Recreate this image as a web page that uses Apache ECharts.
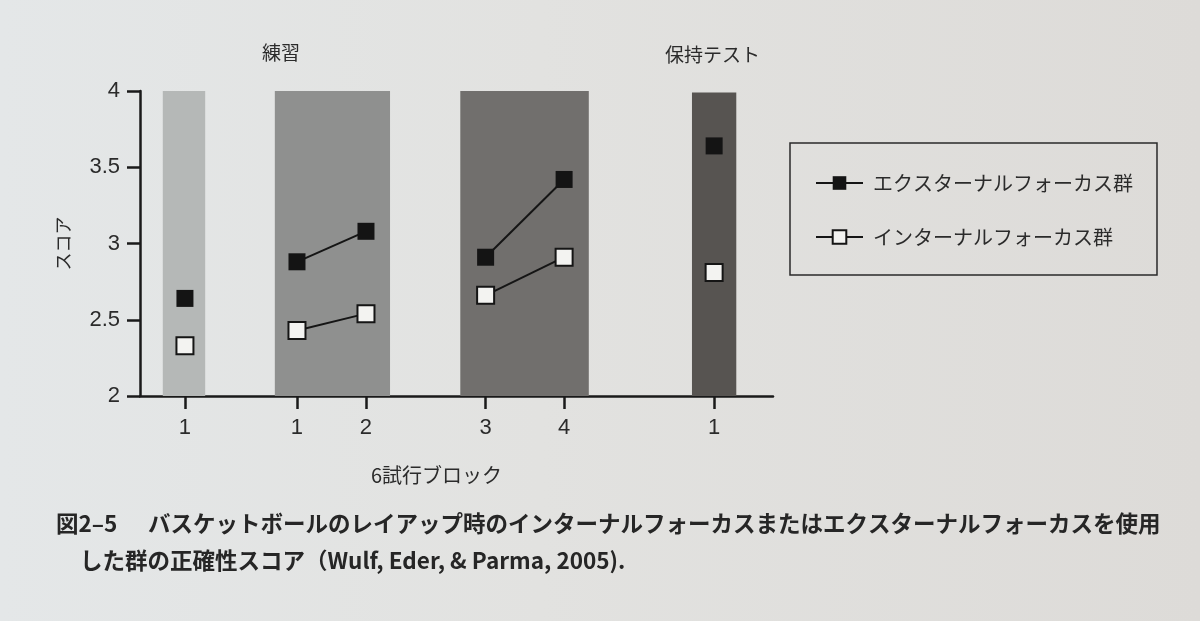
<!DOCTYPE html>
<html>
<head>
<meta charset="utf-8">
<script src="https://cdn.jsdelivr.net/npm/echarts@6/dist/echarts.min.js"></script>
<style>
  html, body { margin: 0; padding: 0; }
  body { background: linear-gradient(90deg, #e4e7e8 0%, #e2e2e0 45%, #dddbd8 100%); }
  #chart { width: 1200px; height: 621px; }
</style>
</head>
<body>
<div id="chart"></div>
<script>
// chart data
var blockLabels = ['1', '1', '2', '3', '4', '1'];
var blockPos = [7.1, 24.8, 35.7, 54.6, 67.0, 90.7];   // positions on the 0-100 x axis
var segment = [0, 1, 1, 2, 2, 3];                      // points with the same id are joined
var externalScores = [2.64, 2.88, 3.08, 2.91, 3.42, 3.64];
var internalScores = [2.33, 2.43, 2.54, 2.66, 2.91, 2.81];

// shaded phase bands (x range on the same axis, top in score units)
var bandFrom = [3.6, 21.3, 50.6, 87.2];
var bandTo = [10.3, 39.5, 70.9, 94.2];
var bandTop = [4.0, 4.02, 4.02, 3.99];

var seriesNames = ['エクスターナルフォーカス群', 'インターナルフォーカス群'];
var phaseLabels = ['練習', '保持テスト'];

const bandColors = ['#b5b8b7', '#8f908f', '#716f6d', '#575451'];
const textColor = '#2b2b2b';
const fontJP = '"Noto Sans CJK JP", "Noto Sans", sans-serif';
const fontNum = '"Liberation Sans", Arial, sans-serif';

var chart = echarts.init(document.getElementById('chart'));

function buildSeries(name, scores, fill, border) {
  var out = [];
  var groups = {};
  for (var i = 0; i < scores.length; i++) {
    if (!groups[segment[i]]) groups[segment[i]] = [];
    groups[segment[i]].push([blockPos[i], scores[i]]);
  }
  Object.keys(groups).forEach(function (k) {
    out.push({
      name: name,
      type: 'line',
      data: groups[k],
      symbol: 'rect',
      symbolSize: 17,
      z: 5,
      lineStyle: { color: '#151515', width: 2 },
      itemStyle: { color: fill, borderColor: border, borderWidth: border ? 2 : 0 },
      emphasis: { disabled: true }
    });
  });
  return out;
}

var bandData = [];
for (var i = 0; i < bandFrom.length; i++) {
  bandData.push([
    { coord: [bandFrom[i], 2], itemStyle: { color: bandColors[i], opacity: 1 } },
    { coord: [bandTo[i], bandTop[i]] }
  ]);
}

var series = [{
  name: 'bands',
  type: 'line',
  data: [],
  silent: true,
  markArea: { silent: true, data: bandData, label: { show: false } }
}];
series = series.concat(buildSeries(seriesNames[0], externalScores, '#141414', null));
series = series.concat(buildSeries(seriesNames[1], internalScores, '#f3f3f1', '#151515'));

var option = {
  backgroundColor: 'transparent',
  animation: false,
  grid: { left: 140, right: 427, top: 91, bottom: 225 },
  xAxis: {
    type: 'value',
    min: 0,
    max: 100,
    splitLine: { show: false },
    axisLine: { show: true, onZero: false, lineStyle: { color: '#1a1a1a', width: 2.5 } },
    axisTick: { show: true, length: 13, customValues: blockPos, lineStyle: { color: '#1a1a1a', width: 2.5 } },
    axisLabel: {
      customValues: blockPos,
      margin: 21,
      fontSize: 22,
      fontFamily: fontNum,
      color: textColor,
      formatter: function (v) {
        var idx = blockPos.indexOf(v);
        return idx >= 0 ? blockLabels[idx] : '';
      }
    }
  },
  yAxis: {
    type: 'value',
    min: 2,
    max: 4,
    interval: 0.5,
    name: 'スコア',
    nameLocation: 'middle',
    nameRotate: 90,
    nameGap: 68,
    nameTextStyle: { fontSize: 18, color: textColor, fontFamily: fontJP },
    splitLine: { show: false },
    axisLine: { show: true, lineStyle: { color: '#1a1a1a', width: 2.5 } },
    axisTick: { show: true, length: 13, lineStyle: { color: '#1a1a1a', width: 2.5 } },
    axisLabel: {
      margin: 20,
      fontSize: 22,
      fontFamily: fontNum,
      color: textColor
    }
  },
  legend: {
    data: seriesNames,
    orient: 'vertical',
    left: 790,
    top: 143,
    padding: [30, 24, 28, 25],
    itemGap: 34,
    itemWidth: 47,
    itemHeight: 17,
    borderColor: '#2a2a2a',
    borderWidth: 1.5,
    textStyle: { fontSize: 20, color: textColor, fontFamily: fontJP, padding: [0, 0, 0, 5] },
    selectedMode: false
  },
  graphic: [
    { type: 'text', left: 262, top: 43, style: { text: phaseLabels[0], fontSize: 19, fill: textColor, fontFamily: fontJP } },
    { type: 'text', left: 665, top: 45, style: { text: phaseLabels[1], fontSize: 19, fill: textColor, fontFamily: fontJP } },
    { type: 'text', left: 371, top: 465, style: { text: '6試行ブロック', fontSize: 20, fill: textColor, fontFamily: fontJP } },
    { type: 'text', left: 56, top: 512, style: { text: '図2–5', fontSize: 22.5, fontWeight: 'bold', fill: '#262626', fontFamily: fontJP } },
    { type: 'text', left: 148, top: 512, style: { text: 'バスケットボールのレイアップ時のインターナルフォーカスまたはエクスターナルフォーカスを使用', fontSize: 22.5, fontWeight: 'bold', fill: '#262626', fontFamily: fontJP } },
    { type: 'text', left: 80, top: 549, style: { text: 'した群の正確性スコア（Wulf, Eder, & Parma, 2005).', fontSize: 22.5, fontWeight: 'bold', fill: '#262626', fontFamily: fontJP } }
  ],
  series: series
};

chart.setOption(option);
</script>
</body>
</html>
